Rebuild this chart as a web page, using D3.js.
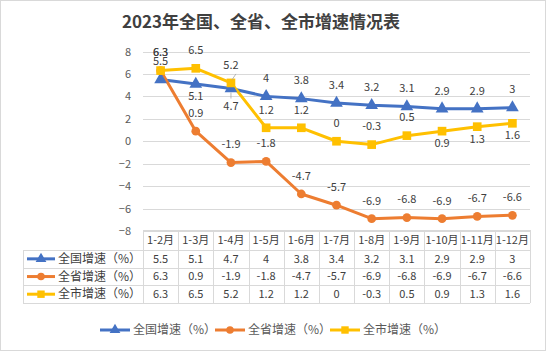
<!DOCTYPE html>
<html><head><meta charset="utf-8">
<script src="https://cdn.jsdelivr.net/npm/d3@7"></script>
<style>body{margin:0;background:#fff}svg{display:block}text{font-family:"Noto Sans CJK SC","Microsoft YaHei",sans-serif}</style>
</head><body><svg id="c" width="546" height="351"></svg>
<script>
const title = "2023年全国、全省、全市增速情况表";
const categories = ["1-2月","1-3月","1-4月","1-5月","1-6月","1-7月","1-8月","1-9月","1-10月","1-11月","1-12月"];
const seriesNames = ["全国增速（%）","全省增速（%）","全市增速（%）"];
const national = [5.5,5.1,4.7,4,3.8,3.4,3.2,3.1,2.9,2.9,3];
const province = [6.3,0.9,-1.9,-1.8,-4.7,-5.7,-6.9,-6.8,-6.9,-6.7,-6.6];
const city = [6.3,6.5,5.2,1.2,1.2,0,-0.3,0.5,0.9,1.3,1.6];
const yTicks = [-8,-6,-4,-2,0,2,4,6,8];
const nationalLabelSide = ["up","down","down","up","up","up","up","up","up","up","up"];
const provinceLabelSide = ["up","up","up","up","up","up","up","up","up","up","up"];
const cityLabelSide = ["up","up","up","up","up","up","up","up","down","down","down"];
const colors = ["#4472C4","#ED7D31","#FFC000"];
const markers = [d3.symbolTriangle, d3.symbolCircle, d3.symbolSquare];

const svg = d3.select("#c");
svg.append("rect").attr("x",0.5).attr("y",0.5).attr("width",545).attr("height",350)
  .attr("fill","#fff").attr("stroke","#d9d9d9");

svg.append("text").attr("x",261).attr("y",28).attr("text-anchor","middle")
  .attr("font-size",17).attr("font-weight","bold").attr("fill","#404040").text(title);

const x = d3.scaleBand().domain(categories).range([143,530]);
const y = d3.scaleLinear().domain([-8,8]).range([231,51.5]);
const cx = c => x(c) + x.bandwidth()/2;

// gridlines
svg.append("g").selectAll("line").data(yTicks).join("line")
  .attr("x1",143).attr("x2",530).attr("y1",d=>Math.round(y(d))+0.5).attr("y2",d=>Math.round(y(d))+0.5)
  .attr("stroke","#d9d9d9").attr("stroke-width",1);

// y axis
const yAxis = d3.axisLeft(y).tickValues(yTicks).tickSize(0).tickPadding(0).tickFormat(d3.format("d"));
const ga = svg.append("g").attr("transform","translate(131,0)").call(yAxis);
ga.select(".domain").remove();
ga.selectAll("text").attr("font-size",11).attr("fill","#595959")
  .attr("font-family","'Noto Sans CJK SC',sans-serif");

const data = [national, province, city];
const sides = [nationalLabelSide, provinceLabelSide, cityLabelSide];
const line = d3.line().x((d,i)=>cx(categories[i])).y(d=>y(d));

data.forEach((vals,s)=>{
  svg.append("path").datum(vals).attr("d",line).attr("fill","none")
    .attr("stroke",colors[s]).attr("stroke-width",3).attr("stroke-linejoin","round");
});
data.forEach((vals,s)=>{
  const sz = s===0 ? 70 : (s===1 ? 60 : 75);
  svg.append("g").selectAll("path").data(vals).join("path")
    .attr("d",d3.symbol().type(markers[s]).size(sz))
    .attr("transform",(d,i)=>`translate(${cx(categories[i])},${y(d)})`)
    .attr("fill",colors[s]);
});

// leader lines for shifted labels
svg.append("line").attr("x1",cx("1-4月")).attr("x2",cx("1-4月")).attr("y1",y(4.7)+4).attr("y2",y(4.7)+10)
  .attr("stroke","#a6a6a6").attr("stroke-width",0.8);
svg.append("line").attr("x1",cx("1-4月")+1).attr("x2",cx("1-4月")+5).attr("y1",y(5.2)-3).attr("y2",y(5.2)-9)
  .attr("stroke","#a6a6a6").attr("stroke-width",0.8);

// data labels
data.forEach((vals,s)=>{
  svg.append("g").selectAll("text").data(vals).join("text")
    .attr("x",(d,i)=>cx(categories[i]))
    .attr("y",(d,i)=>{
      let off = sides[s][i]==="up" ? -18 : 12;
      if (s===0 && i===2) off = 18;
      return y(d)+off;
    })
    .attr("dy","0.35em").attr("text-anchor","middle").attr("font-size",11).attr("fill","#404040")
    .text(d=>d);
});

// data table
const tTop = 230, rowH = [20,17.7,17.7,17.7];
const rowY = [tTop, tTop+20, tTop+37.7, tTop+55.4, tTop+73];
const tbl = svg.append("g");
const bc = "#d9d9d9";
// horizontal lines
tbl.append("line").attr("x1",143).attr("x2",530).attr("y1",rowY[0]+0.5).attr("y2",rowY[0]+0.5).attr("stroke",bc);
[1,2,3,4].forEach(r=>{
  tbl.append("line").attr("x1",23).attr("x2",530).attr("y1",Math.round(rowY[r])+0.5).attr("y2",Math.round(rowY[r])+0.5).attr("stroke",bc);
});
// vertical lines
tbl.append("line").attr("x1",23.5).attr("x2",23.5).attr("y1",rowY[1]).attr("y2",rowY[4]).attr("stroke",bc);
const colEdges = categories.map(c=>x(c)).concat([530]);
colEdges.forEach(xe=>{
  tbl.append("line").attr("x1",Math.round(xe)+0.5).attr("x2",Math.round(xe)+0.5).attr("y1",rowY[0]).attr("y2",rowY[4]).attr("stroke",bc);
});
// header
tbl.selectAll("text.h").data(categories).join("text").attr("class","h")
  .attr("x",d=>cx(d)).attr("y",(rowY[0]+rowY[1])/2).attr("dy","0.35em").attr("text-anchor","middle")
  .attr("font-size",11).attr("fill","#404040").text(d=>d);
data.forEach((vals,s)=>{
  const my = (rowY[s+1]+rowY[s+2])/2;
  tbl.selectAll("text.v"+s).data(vals).join("text").attr("class","v"+s)
    .attr("x",(d,i)=>cx(categories[i])).attr("y",my).attr("dy","0.35em").attr("text-anchor","middle")
    .attr("font-size",11).attr("fill","#404040").text(d=>d);
  tbl.append("line").attr("x1",27).attr("x2",55).attr("y1",my).attr("y2",my).attr("stroke",colors[s]).attr("stroke-width",3);
  tbl.append("path").attr("d",d3.symbol().type(markers[s]).size(s===0?50:(s===1?45:55)))
    .attr("transform",`translate(41,${my})`).attr("fill",colors[s]);
  tbl.append("text").attr("x",58).attr("y",my).attr("dy","0.35em").attr("font-size",12).attr("fill","#404040").text(seriesNames[s]);
});

// legend
const lg = svg.append("g");
const lx = [100,215,330];
seriesNames.forEach((n,s)=>{
  const ly = 330;
  lg.append("line").attr("x1",lx[s]).attr("x2",lx[s]+30).attr("y1",ly).attr("y2",ly).attr("stroke",colors[s]).attr("stroke-width",3);
  lg.append("path").attr("d",d3.symbol().type(markers[s]).size(s===0?50:(s===1?45:55)))
    .attr("transform",`translate(${lx[s]+15},${ly})`).attr("fill",colors[s]);
  lg.append("text").attr("x",lx[s]+33).attr("y",ly).attr("dy","0.35em").attr("font-size",12).attr("fill","#595959").text(n);
});
</script></body></html>
